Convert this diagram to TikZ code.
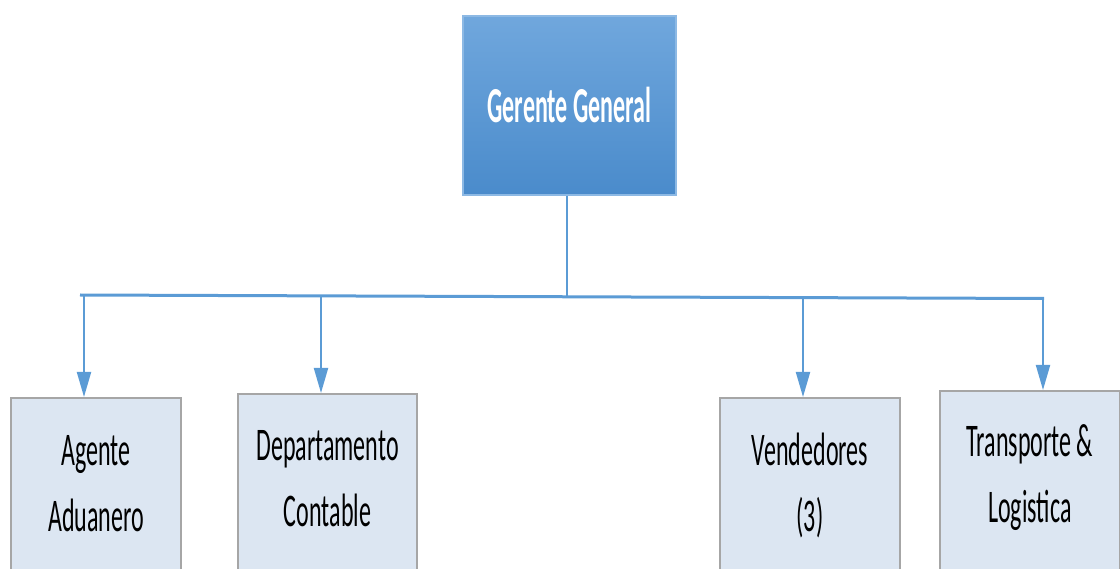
\documentclass[tikz,border=0pt]{standalone}
\usepackage{fontspec}
\setmainfont{Carlito}
\usetikzlibrary{arrows.meta}
\definecolor{linkblue}{HTML}{5B9BD5}
\definecolor{topA}{HTML}{70A7DD}
\definecolor{topB}{HTML}{4A8BCB}
\definecolor{boxfill}{HTML}{DCE6F2}
\definecolor{boxline}{HTML}{A6A6A6}
\newcommand{\lowtext}[2]{\scalebox{1}[1.95]{\fontsize{24}{34}\selectfont\begin{tabular}{@{}c@{}}#1\\#2\end{tabular}}}
\tikzset{
  topbox/.style={draw=topA!80!white, line width=1.5pt, top color=topA, bottom color=topB, minimum width=213pt, minimum height=179pt, inner sep=0pt, text=white},
  lowbox/.style={draw=boxline, line width=2pt, fill=boxfill, minimum width=170pt, minimum height=185pt, inner sep=0pt, anchor=north},
  lowlabel/.style={inner sep=0pt, anchor=center},
  bus/.style={draw=linkblue, line width=3pt},
  link/.style={draw=linkblue, line width=2pt},
  arr/.style={link, -{Triangle[width=14pt,length=25pt]}}
}
\begin{document}
\begin{tikzpicture}[x=1pt,y=-1pt]
\useasboundingbox (0,0) rectangle (1120,569);
\clip (0,0) rectangle (1120,569);
\node[topbox] (gg) at (569.5,105.5) {\scalebox{1}[2.1]{\fontsize{24}{24}\selectfont\bfseries Gerente General}};
\node[lowbox, minimum width=170pt] (aa) at (96,397) {};
\node[lowbox, minimum width=179pt] (dc) at (327.5,393) {};
\node[lowbox, minimum width=180pt] (vd) at (810,397) {};
\node[lowbox, minimum width=180pt] (tl) at (1030,390) {};
\node[lowlabel] (aat) at (aa.north |- 0,485) {\lowtext{Agente}{Aduanero}};
\node[lowlabel] (dct) at (dc.north |- 0,480) {\lowtext{Departamento}{Contable}};
\node[lowlabel] (vdt) at (vd.north |- 0,485) {\lowtext{Vendedores}{(3)}};
\node[lowlabel] (tlt) at (tl.north |- 0,476) {\lowtext{Transporte \&}{Logistica}};
\coordinate (bl) at (80,295);
\coordinate (br) at (1044,298.5);
\coordinate (bm) at (567,297);
\coordinate (t1) at (84,295);
\coordinate (t2) at (321,296);
\coordinate (t3) at (803,297.5);
\coordinate (t4) at (1043,298.5);
\path[link] (gg.south -| bm) -- (bm);
\path[bus] (bl) -- (br);
\draw[arr] (t1) -- (t1 |- aa.north);
\draw[arr] (t2) -- (t2 |- dc.north);
\draw[arr] (t3) -- (t3 |- vd.north);
\draw[arr] (t4) -- (t4 |- tl.north);
\end{tikzpicture}
\end{document}
